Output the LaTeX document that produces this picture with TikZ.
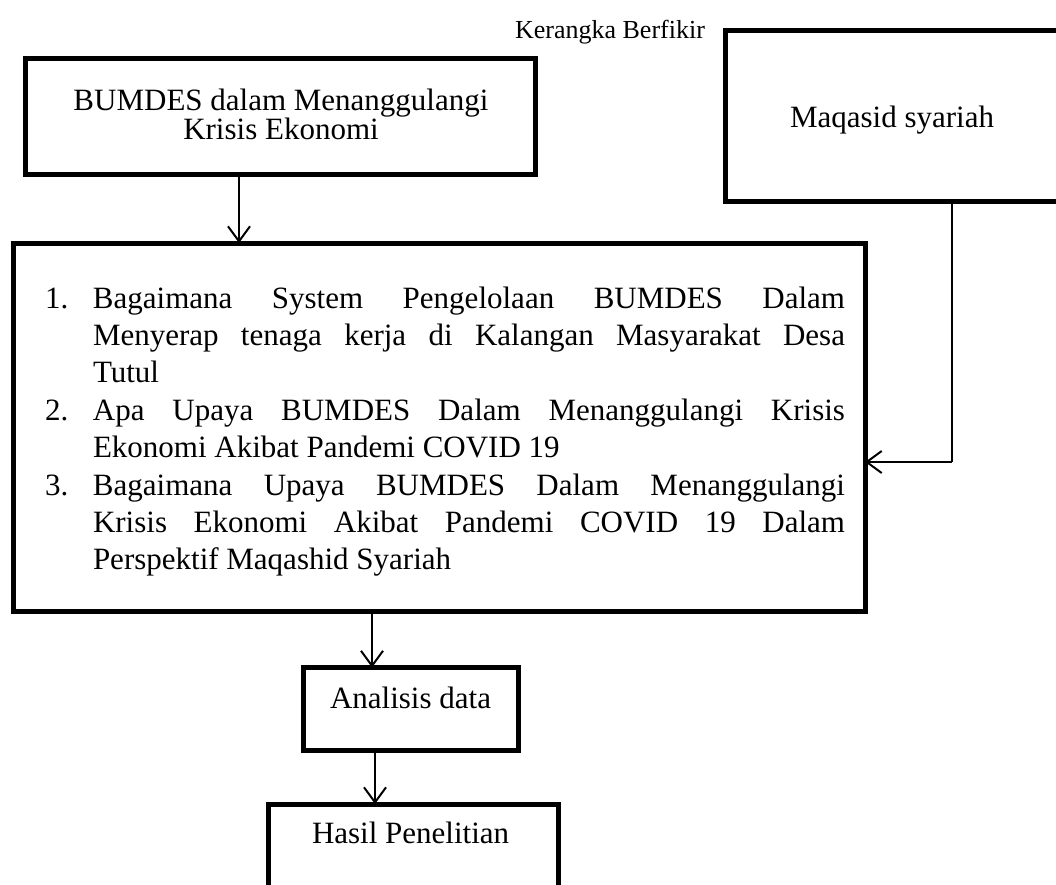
\documentclass[tikz,border=0pt]{standalone}
\usepackage{fontspec}
\setmainfont{Liberation Serif}
\usetikzlibrary{arrows.meta}
\tikzset{
  box/.style={draw, line width=5pt, inner sep=0pt, outer sep=0pt},
  conn/.style={line width=2pt, -{Straight Barb[length=15pt,width=22pt,line width=2pt]}},
  plain/.style={line width=2pt},
  txt/.style={inner sep=0pt, outer sep=0pt, font=\fontsize{31}{29}\selectfont},
}
\begin{document}
\begin{tikzpicture}[x=1pt,y=-1pt]
\useasboundingbox (0,0) rectangle (1056,884);
\clip (0,0) rectangle (1056,884);
% title
\node[txt, anchor=base, font=\fontsize{26}{30}\selectfont] (title) at (610,38) {Kerangka Berfikir};
% boxes
\node[box, minimum width=510pt, minimum height=116pt] (b1) at (280,116) {};
\node[box, minimum width=340pt, minimum height=171pt] (b2) at (895,115.5) {};
\node[box, minimum width=852pt, minimum height=368pt] (b3) at (439,427) {};
\node[box, minimum width=215pt, minimum height=82.5pt] (b4) at (410.5,708.75) {};
\node[box, minimum width=290pt, minimum height=160pt] (b5) at (413,884) {};
% texts
\node[txt, anchor=base] (t1) at (281,110) {\parbox[t]{500pt}{\centering\fontsize{31}{29}\selectfont BUMDES dalam Menanggulangi\\Krisis Ekonomi}};
\node[txt, anchor=base] (t2) at (892,127) {Maqasid syariah};
\node[txt, anchor=base west] (t3) at (45,308) {\parbox[t]{800pt}{\fontsize{31}{37.4}\selectfont
\hangindent=48pt\hangafter=1\noindent\makebox[48pt][l]{1.}Bagaimana System Pengelolaan BUMDES Dalam\linebreak Menyerap tenaga kerja di Kalangan Masyarakat Desa\linebreak Tutul\par
\hangindent=48pt\hangafter=1\noindent\makebox[48pt][l]{2.}Apa Upaya BUMDES Dalam Menanggulangi Krisis\linebreak Ekonomi Akibat Pandemi COVID 19\par
\hangindent=48pt\hangafter=1\noindent\makebox[48pt][l]{3.}Bagaimana Upaya BUMDES Dalam Menanggulangi\linebreak Krisis Ekonomi Akibat Pandemi COVID 19 Dalam\linebreak Perspektif Maqashid Syariah\par}};
\node[txt, anchor=base west] (t4) at (330,708) {Analisis data};
\node[txt, anchor=base west] (t5) at (312,843) {Hasil Penelitian};
% connectors
\draw[conn] (b1.south -| 239,0) -- (b3.north -| 239,0);
\draw[plain] (b2.south -| 952,0) -- (952,462) coordinate (c1);
\draw[conn] (c1) -- (b3.east |- c1);
\draw[conn] (b3.south -| 372,0) -- (b4.north -| 372,0);
\draw[conn] (b4.south -| 375,0) -- (b5.north -| 375,0);
\end{tikzpicture}
\end{document}
